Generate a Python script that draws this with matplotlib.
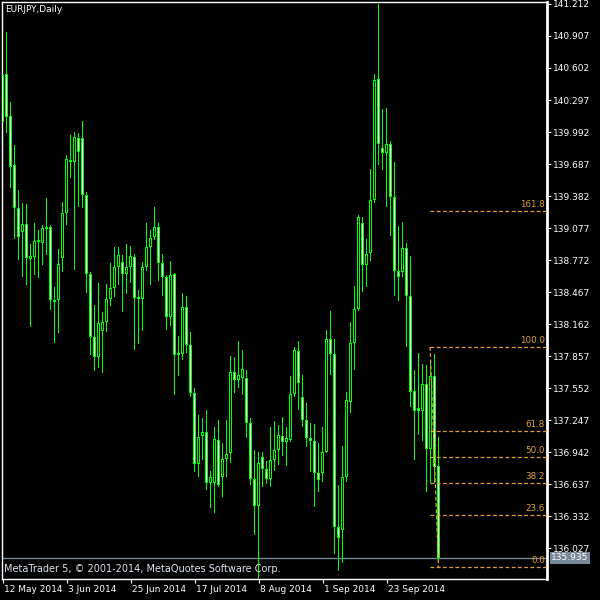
import matplotlib
matplotlib.use("Agg")
import matplotlib.pyplot as plt
import matplotlib.transforms as mtransforms

# ---------------- data ----------------
symbol_title = "EURJPY,Daily"
footer_text = "MetaTrader 5, \u00a9 2001-2014, MetaQuotes Software Corp."

date_tick_bars = [0, 16, 32, 48, 64, 80, 96]
date_tick_labels = ["12 May 2014", "3 Jun 2014", "25 Jun 2014", "17 Jul 2014",
                    "8 Aug 2014", "1 Sep 2014", "23 Sep 2014"]

price_ticks = [141.212, 140.907, 140.602, 140.297, 139.992, 139.687, 139.382,
               139.077, 138.772, 138.467, 138.162, 137.857, 137.552, 137.247,
               136.942, 136.637, 136.332, 136.027]

opens = [140.535, 140.545, 140.144, 139.677, 139.268, 139.039, 139.115, 138.782, 138.801, 138.944,
         138.934, 139.067, 139.087, 138.391, 138.391, 138.791, 139.220, 139.725, 139.706, 139.935,
         139.935, 139.391, 138.639, 138.038, 137.847, 138.095, 138.181, 138.400, 138.505, 138.705,
         138.753, 138.639, 138.705, 138.801, 138.419, 138.400, 138.705, 138.896, 138.991, 139.087,
         138.743, 138.610, 138.229, 138.639, 137.866, 137.876, 138.324, 137.962, 137.504, 136.828,
         137.095, 137.133, 136.647, 136.647, 137.056, 136.704, 136.875, 136.932, 137.705, 137.628,
         137.647, 137.647, 137.218, 136.685, 136.427, 136.894, 136.780, 136.685, 136.866, 136.961,
         137.094, 137.037, 137.056, 137.495, 137.905, 137.466, 137.247, 137.075, 137.047, 136.742,
         136.742, 136.942, 138.019, 137.876, 136.227, 136.199, 136.704, 137.419, 137.981, 138.305,
         139.125, 138.724, 138.839, 139.344, 140.497, 139.839, 139.792, 139.878, 139.372, 138.667,
         138.658, 138.886, 138.429, 137.523, 137.361, 137.333, 137.590, 136.971, 137.666, 136.809]

highs = [140.583, 140.945, 140.278, 139.868, 139.439, 139.315, 139.306, 138.924, 139.125, 139.058,
         139.106, 139.363, 139.106, 138.515, 138.877, 139.325, 139.773, 139.963, 139.992, 139.982,
         140.097, 139.420, 138.658, 138.343, 138.553, 138.276, 138.543, 138.743, 138.896, 138.896,
         138.820, 138.924, 138.905, 138.829, 138.486, 138.753, 139.125, 139.058, 139.277, 139.125,
         138.829, 138.629, 138.762, 138.648, 138.048, 138.457, 138.429, 138.086, 137.552, 137.295,
         137.266, 137.342, 136.761, 137.180, 137.247, 137.028, 137.247, 137.857, 137.847, 138.000,
         137.914, 137.724, 137.266, 136.961, 136.942, 136.942, 136.856, 137.180, 137.237, 137.199,
         137.276, 137.180, 137.666, 137.943, 138.000, 137.676, 137.409, 137.218, 137.209, 137.028,
         137.180, 138.105, 138.286, 138.019, 136.628, 137.000, 137.514, 138.181, 138.524, 139.201,
         139.182, 138.972, 139.639, 140.545, 141.212, 140.211, 140.221, 139.906, 139.706, 139.096,
         139.134, 138.934, 138.810, 137.724, 137.886, 137.781, 137.771, 137.819, 137.876, 137.085]

lows = [140.059, 139.982, 139.458, 138.972, 138.772, 138.610, 138.534, 138.133, 138.629, 138.600,
        138.724, 138.820, 138.295, 137.981, 138.076, 138.658, 139.106, 139.553, 138.677, 139.277,
        139.268, 138.457, 137.866, 137.714, 137.743, 137.695, 138.086, 138.334, 138.419, 138.534,
        138.276, 138.448, 138.553, 137.914, 137.971, 138.095, 138.667, 138.534, 138.963, 138.572,
        138.429, 138.105, 138.143, 137.485, 137.666, 137.819, 137.886, 137.466, 136.751, 136.704,
        136.866, 136.580, 136.408, 136.361, 136.608, 136.513, 136.704, 136.837, 137.504, 137.552,
        137.485, 137.075, 136.628, 136.151, 135.700, 136.608, 136.637, 136.608, 136.761, 136.818,
        136.904, 136.809, 137.037, 137.466, 137.342, 137.180, 136.990, 136.751, 136.418, 136.561,
        136.656, 136.932, 137.676, 135.970, 135.808, 135.884, 136.656, 137.314, 137.724, 138.290,
        138.467, 138.515, 138.762, 139.315, 139.677, 139.630, 139.277, 139.001, 138.429, 138.381,
        138.610, 137.943, 137.371, 136.866, 137.104, 137.047, 136.561, 136.647, 136.647, 135.884]

closes = [140.087, 140.135, 139.658, 139.268, 138.991, 139.115, 138.791, 138.810, 138.953, 138.963,
          139.077, 139.087, 138.391, 138.372, 138.734, 139.220, 139.735, 139.706, 139.944, 139.801,
          139.391, 138.639, 138.038, 137.847, 138.171, 138.181, 138.400, 138.505, 138.705, 138.820,
          138.639, 138.705, 138.810, 138.410, 138.400, 138.705, 138.896, 138.982, 139.087, 138.743,
          138.610, 138.229, 138.629, 137.866, 137.886, 138.324, 137.962, 137.504, 136.828, 137.085,
          137.133, 136.647, 136.704, 137.066, 136.628, 136.875, 136.923, 137.705, 137.628, 137.676,
          137.733, 137.218, 136.685, 136.427, 136.837, 136.780, 136.685, 136.866, 136.961, 137.104,
          137.037, 137.075, 137.495, 137.914, 137.600, 137.247, 137.075, 137.047, 136.742, 136.675,
          136.942, 138.019, 137.876, 136.227, 136.122, 136.704, 137.438, 137.981, 138.305, 139.182,
          138.724, 138.829, 139.344, 140.488, 139.878, 139.792, 139.878, 139.372, 138.667, 138.610,
          138.886, 138.429, 137.514, 137.333, 137.333, 137.590, 136.971, 137.666, 136.799, 135.935]

bid_price = 135.935

fib_levels = [0.0, 23.6, 38.2, 50.0, 61.8, 100.0, 161.8]
fib_price_100 = 137.943
fib_price_0 = 135.846
fib_start_bar = 107
fib_end_bar = 109

# ---------------- styling ----------------
GREEN = "#00ff00"
ORANGE = "#e0a030"
GREY = "#778899"
plt.rcParams["font.family"] = ["DejaVu Sans"]

W, H = 600, 600
PX = 72.0 / 100.0  # one pixel in points
fig = plt.figure(figsize=(6, 6), dpi=100, facecolor="black")
left_px, right_px, top_px, bottom_px = 2, 547, 2, 579
ax = fig.add_axes([left_px / W, 1 - bottom_px / H,
                   (right_px - left_px) / W, (bottom_px - top_px) / H])
ax.set_facecolor("black")

n = len(opens)
xs = list(range(n))
ax.set_xlim(-0.125, 136.125)
ax.set_ylim(135.732, 141.231)
price_per_px = (141.231 - 135.732) / (bottom_px - top_px)

# wicks (1 px wide columns)
ax.bar(xs, [h - l for h, l in zip(highs, lows)], bottom=lows, width=0.25,
       color=GREEN, linewidth=0, zorder=2, antialiased=False)

# bodies: green outer block (3 px) and 1 px inner fill
outer_b, outer_h, inner_b, inner_h, fills = [], [], [], [], []
for o, c in zip(opens, closes):
    lo = min(o, c)
    h = max(abs(c - o), price_per_px)
    outer_b.append(lo)
    outer_h.append(h)
    ih = h - 2 * price_per_px
    inner_b.append(lo + price_per_px)
    inner_h.append(ih if ih > 0 else 0.0)
    fills.append("white" if c < o else "black")
ax.bar(xs, outer_h, bottom=outer_b, width=0.75, color=GREEN, linewidth=0,
       zorder=3, antialiased=False)
ax.bar(xs, inner_h, bottom=inner_b, width=0.25, color=fills, linewidth=0,
       zorder=4, antialiased=False)

# bid line
ax.axhline(bid_price, color=GREY, linewidth=1.0, zorder=1)

# fibonacci retracement
rng = fib_price_100 - fib_price_0
x_right = ax.get_xlim()[1]
for lev in fib_levels:
    p = fib_price_0 + lev / 100.0 * rng
    ax.hlines(p, fib_start_bar - 0.1, x_right, colors=ORANGE, linewidth=0.9,
              linestyles=(0, (3, 2)), zorder=5)
    ax.annotate(f"{lev:.1f}", xy=(x_right, p), xytext=(-1.5, 1.5),
                textcoords="offset points", ha="right", va="bottom",
                color=ORANGE, fontsize=6.3, zorder=6)
ax.plot([fib_start_bar - 0.1, fib_end_bar], [fib_price_100, fib_price_0],
        color=ORANGE, linewidth=0.9, linestyle=(0, (3, 2)), zorder=5)

# axes frame
for side in ["left", "top", "bottom"]:
    ax.spines[side].set_color("white")
    ax.spines[side].set_linewidth(1.0)
ax.spines["right"].set_color("white")
ax.spines["right"].set_linewidth(2.0)

ax.yaxis.tick_right()
ax.set_yticks(price_ticks)
ax.set_yticklabels([f"{p:.3f}" for p in price_ticks])
ax.tick_params(axis="y", colors="white", length=3, width=0.8, labelsize=6.5,
               pad=1, direction="out")

ax.set_xticks(date_tick_bars)
ax.set_xticklabels(date_tick_labels, ha="left")
ax.tick_params(axis="x", colors="white", length=3, width=0.8, labelsize=6.5,
               pad=1.5, direction="out")
for lbl in ax.get_xticklabels():
    lbl.set_transform(lbl.get_transform() +
                      mtransforms.ScaledTranslation(1.0 / 100, 0, fig.dpi_scale_trans))

# bid price label box
trans = mtransforms.blended_transform_factory(ax.transAxes, ax.transData)
ax.text(1.0, bid_price, f"{bid_price:.3f}",
        transform=trans + mtransforms.ScaledTranslation(4 / 100, 0, fig.dpi_scale_trans),
        ha="left", va="center", color="white", fontsize=6.5, zorder=7, clip_on=False,
        bbox=dict(boxstyle="square,pad=0.15", facecolor=GREY, edgecolor="none"))

# texts
fig.text(5 / W, 1 - 9 / H, symbol_title, color="white", fontsize=6.5, ha="left", va="center")
fig.text(4 / W, 1 - 569 / H, footer_text, color="#dce6f2", fontsize=7, ha="left", va="center")

fig.savefig("out.png", dpi=100, facecolor="black")
